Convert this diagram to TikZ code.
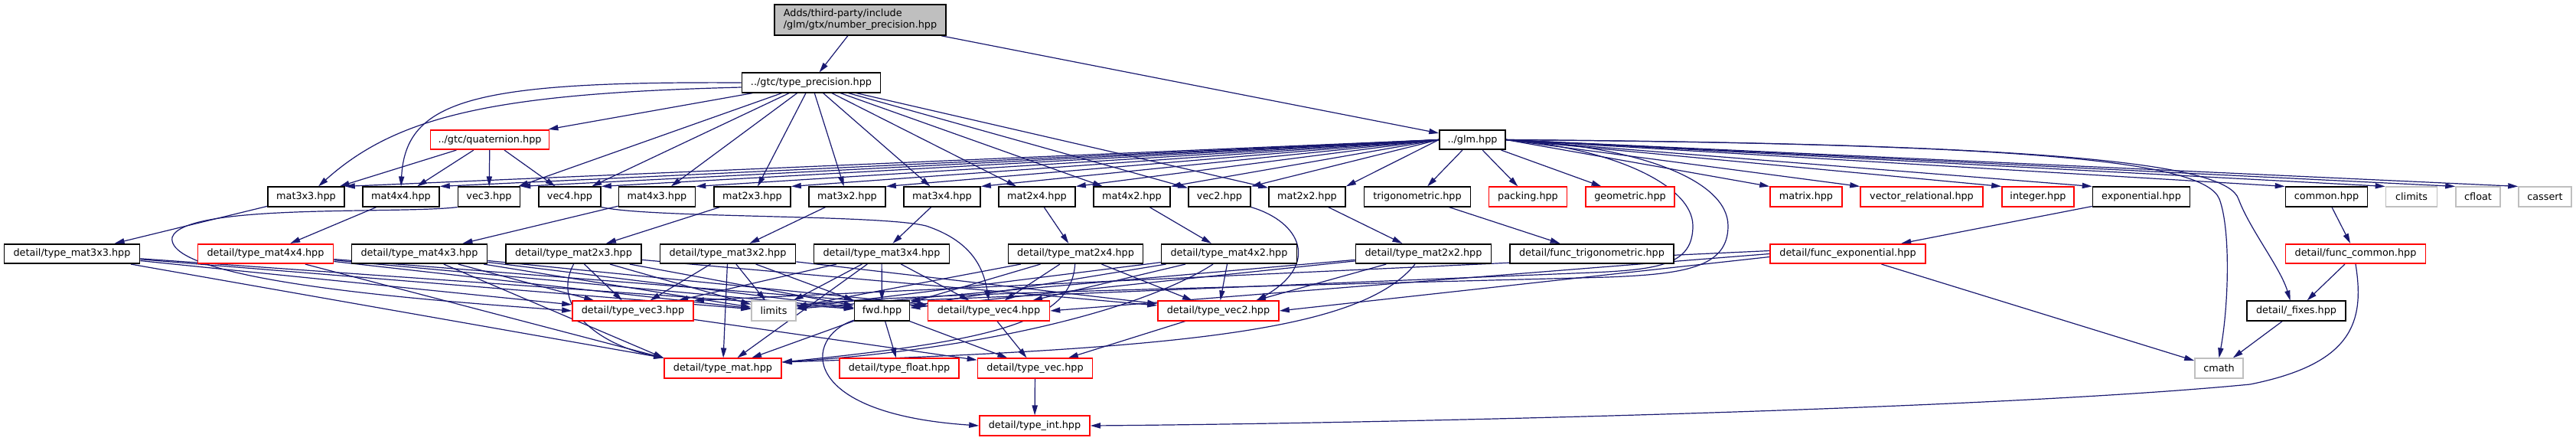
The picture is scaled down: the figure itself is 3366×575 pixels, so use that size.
\documentclass[tikz,border=0pt]{standalone}
\usepackage{fontspec}
\newfontfamily\dvsans{DejaVu Sans}
\usetikzlibrary{arrows.meta}
\definecolor{mblue}{HTML}{191970}
\definecolor{lgray}{HTML}{BFBFBF}
\newcommand\nodefnt{\dvsans\fontsize{6.4}{7.6}\selectfont}
\pgfdeclarelayer{bg}
\pgfsetlayers{bg,main}
\tikzset{
  nb/.style={draw=black, line width=0.8pt, fill=white, inner sep=0pt, minimum height=12.75pt, font=\nodefnt},
  nr/.style={nb, draw=red},
  ng/.style={nb, draw=lgray},
  ed/.style={draw=mblue, line width=0.6pt, -{Triangle[length=6.5pt,width=3.6pt]}},
}
\begin{document}
\begin{tikzpicture}[x=0.5pt,y=-0.5pt]
\useasboundingbox (0,0) rectangle (3366,575);
% ---------- nodes ----------
\node[nb, fill=lgray, minimum width=112pt, minimum height=20pt, align=left] (root) at (1124,26) {Adds/third-party/include\\/glm/gtx/number\_precision.hpp};
\node[nb, minimum width=90.5pt] (tp) at (1060,108) {../gtc/type\_precision.hpp};
\node[nr, minimum width=77.5pt] (quat) at (640,182.5) {../gtc/quaternion.hpp};
\node[nb, minimum width=43pt] (glm) at (1924,182.5) {../glm.hpp};
% row 3
\node[nb, minimum width=50pt] (mat3x3) at (400,257) {mat3x3.hpp};
\node[nb, minimum width=50pt] (mat4x4) at (524,257) {mat4x4.hpp};
\node[nb, minimum width=40.5pt] (vec3) at (639,257) {vec3.hpp};
\node[nb, minimum width=40.5pt] (vec4) at (744.5,257) {vec4.hpp};
\node[nb, minimum width=50pt] (mat4x3) at (858.5,257) {mat4x3.hpp};
\node[nb, minimum width=50pt] (mat2x3) at (983,257) {mat2x3.hpp};
\node[nb, minimum width=50pt] (mat3x2) at (1107,257) {mat3x2.hpp};
\node[nb, minimum width=50pt] (mat3x4) at (1231,257) {mat3x4.hpp};
\node[nb, minimum width=50pt] (mat2x4) at (1355,257) {mat2x4.hpp};
\node[nb, minimum width=50pt] (mat4x2) at (1479,257) {mat4x2.hpp};
\node[nb, minimum width=40.5pt] (vec2) at (1593.5,257) {vec2.hpp};
\node[nb, minimum width=50pt] (mat2x2) at (1708,257) {mat2x2.hpp};
\node[nb, minimum width=69.5pt] (trig) at (1852,257) {trigonometric.hpp};
\node[nr, minimum width=51pt] (packing) at (1996.5,257) {packing.hpp};
\node[nr, minimum width=58pt] (geometric) at (2130,257) {geometric.hpp};
\node[nr, minimum width=47pt] (matrix) at (2360,257) {matrix.hpp};
\node[nr, minimum width=80pt] (vecrel) at (2511,257) {vector\_relational.hpp};
\node[nr, minimum width=47pt] (integer) at (2663,257) {integer.hpp};
\node[nb, minimum width=63.5pt] (exponential) at (2798,257) {exponential.hpp};
\node[nb, minimum width=53.5pt] (common) at (3040,257) {common.hpp};
\node[ng, minimum width=33.5pt] (climits) at (3151,257) {climits};
\node[ng, minimum width=29pt] (cfloat) at (3238,257) {cfloat};
\node[ng, minimum width=34.5pt] (cassert) at (3325.5,257) {cassert};
% row 4
\node[nb, minimum width=88.5pt] (tmat3x3) at (94,331.5) {detail/type\_mat3x3.hpp};
\node[nr, minimum width=88.5pt] (tmat4x4) at (347,331.5) {detail/type\_mat4x4.hpp};
\node[nb, minimum width=88.5pt] (tmat4x3) at (548,331.5) {detail/type\_mat4x3.hpp};
\node[nb, minimum width=88.5pt] (tmat2x3) at (749.5,331.5) {detail/type\_mat2x3.hpp};
\node[nb, minimum width=88.5pt] (tmat3x2) at (951,331.5) {detail/type\_mat3x2.hpp};
\node[nb, minimum width=88.5pt] (tmat3x4) at (1152,331.5) {detail/type\_mat3x4.hpp};
\node[nb, minimum width=88pt] (tmat2x4) at (1405.5,331.5) {detail/type\_mat2x4.hpp};
\node[nb, minimum width=88.5pt] (tmat4x2) at (1606,331.5) {detail/type\_mat4x2.hpp};
\node[nb, minimum width=88.5pt] (tmat2x2) at (1860,331.5) {detail/type\_mat2x2.hpp};
\node[nb, minimum width=107pt] (ftrig) at (2080,331.5) {detail/func\_trigonometric.hpp};
\node[nr, minimum width=101.5pt] (fexp) at (2414.5,331.5) {detail/func\_exponential.hpp};
\node[nr, minimum width=91.5pt] (fcommon) at (3078,331.5) {detail/func\_common.hpp};
% row 5
\node[nr, minimum width=79pt] (tvec3) at (827,406) {detail/type\_vec3.hpp};
\node[ng, minimum width=29pt] (limits) at (1011,406) {limits};
\node[nb, minimum width=36pt] (fwd) at (1152.5,406) {fwd.hpp};
\node[nr, minimum width=79.5pt] (tvec4) at (1292,406) {detail/type\_vec4.hpp};
\node[nr, minimum width=79pt] (tvec2) at (1592,406) {detail/type\_vec2.hpp};
\node[nb, minimum width=64.5pt] (fixes) at (3000.5,406) {detail/\_fixes.hpp};
% row 6
\node[nr, minimum width=76.5pt] (tmat) at (944.5,481) {detail/type\_mat.hpp};
\node[nr, minimum width=78pt] (tfloat) at (1175,481) {detail/type\_float.hpp};
\node[nr, minimum width=75pt] (tvec) at (1352.5,481) {detail/type\_vec.hpp};
\node[ng, minimum width=31.5pt] (cmath) at (2899.5,481) {cmath};
% row 7
\node[nr, minimum width=72pt] (tint) at (1352,556) {detail/type\_int.hpp};
% ---------- edges ----------
\begin{pgfonlayer}{bg}
\draw[ed] (root) -- (tp);
\draw[ed] (root) -- (glm);
% type_precision
\draw[ed] (tp) -- (quat);
\draw[ed] ([yshift=-3pt]tp.west) .. controls (650,122) and (520,150) .. ([xshift=8pt]mat3x3.north);
\draw[ed] (tp.west) .. controls (620,106) and (530,130) .. (mat4x4.north);
\foreach \X in {vec3,vec4,mat4x3,mat2x3,mat3x2,mat3x4,mat2x4,mat4x2,vec2,mat2x2}
  \draw[ed] (tp) -- (\X);
% quaternion
\foreach \X in {mat3x3,mat4x4,vec3,vec4}
  \draw[ed] (quat) -- (\X);
% glm
\foreach \X in {mat3x3,mat4x4,vec3,vec4,mat4x3,mat2x3,mat3x2,mat3x4,mat2x4,mat4x2,vec2,mat2x2}
  \draw[ed] (glm.west) -- (\X.north east);
\foreach \X in {trig,packing,geometric}
  \draw[ed] (glm) -- (\X);
\foreach \X in {matrix,vecrel,integer,exponential,common,climits,cfloat,cassert}
  \draw[ed] (glm.east) -- (\X.north west);
\draw[ed] (glm.east) .. controls (2100,192) and (2212,240) .. (2212,295) .. controls (2212,345) and (2170,352) .. (2080,356) -- (fwd.north east);
\draw[ed] (glm.east) .. controls (2140,190) and (2258,235) .. (2258,295) .. controls (2258,350) and (2200,358) .. (2100,362) .. controls (1500,378) and (1150,385) .. ([yshift=3pt]limits.east);
\draw[ed] (glm.east) .. controls (2700,188) and (2910,215) .. (2925,260) .. controls (2940,300) and (2980,350) .. ([xshift=-4pt]fixes.north);
\draw[ed] (glm.east) .. controls (2650,188) and (2880,210) .. (2900,260) .. controls (2915,300) and (2912,400) .. (cmath.north);
% mat -> type_mat
\draw[ed] (mat3x3) -- (tmat3x3);
\draw[ed] (mat4x4) -- (tmat4x4);
\draw[ed] (mat4x3) -- (tmat4x3);
\draw[ed] (mat2x3) -- (tmat2x3);
\draw[ed] (mat3x2) -- (tmat3x2);
\draw[ed] (mat3x4) -- (tmat3x4);
\draw[ed] (mat2x4) -- (tmat2x4);
\draw[ed] (mat4x2) -- (tmat4x2);
\draw[ed] (mat2x2) -- (tmat2x2);
\draw[ed] (trig) -- (ftrig);
\draw[ed] (exponential) -- (fexp);
\draw[ed] (common) -- (fcommon);
% vec -> type_vec
\draw[ed] (vec3.south west) .. controls (520,280) and (240,265) .. (225,310) .. controls (215,370) and (600,395) .. (tvec3.west);
\draw[ed] (vec4.south east) .. controls (850,285) and (1150,280) .. (1210,295) .. controls (1270,315) and (1285,350) .. (tvec4.north);
\draw[ed] (vec2.south east) .. controls (1700,290) and (1725,345) .. ([xshift=25pt]tvec2.north);
% type_mat* edges
\foreach \X in {tmat3x3,tmat4x4,tmat4x3,tmat2x3,tmat3x2,tmat3x4,tmat2x4,tmat4x2,tmat2x2}
  {\draw[ed] (\X) -- (fwd); \draw[ed] (\X) -- (limits);}
\foreach \X in {tmat3x3,tmat4x3,tmat2x3,tmat3x2,tmat3x4}
  \draw[ed] (\X) -- (tvec3);
\foreach \X in {tmat4x4,tmat4x3,tmat3x4,tmat2x4,tmat4x2}
  \draw[ed] (\X) -- (tvec4);
\foreach \X in {tmat2x3,tmat3x2,tmat2x4,tmat4x2,tmat2x2}
  \draw[ed] (\X) -- (tvec2);
\foreach \X in {tmat3x3,tmat4x4,tmat4x3}
  \draw[ed] (\X) -- (tmat.north west);
\draw[ed] (tmat3x2) -- (tmat);
\draw[ed] (tmat3x4) -- (tmat);
\draw[ed] (tmat2x3.south) .. controls (720,400) and (780,450) .. (tmat.north west);
\draw[ed] (tmat2x4) .. controls (1400,420) and (1300,445) .. ([yshift=4pt]tmat.east);
\draw[ed] (tmat4x2) .. controls (1500,400) and (1300,455) .. ([yshift=4pt]tmat.east);
\draw[ed] (tmat2x2) .. controls (1780,430) and (1560,455) .. ([yshift=4pt]tmat.east);
% fwd & vec
\draw[ed] (fwd) -- (tmat);
\draw[ed] (fwd) -- (tfloat);
\draw[ed] (fwd) -- (tvec);
\draw[ed] (fwd) .. controls (1050,440) and (1040,540) .. (tint.west);
\draw[ed] (tvec3) -- (tvec);
\draw[ed] (tvec4) -- (tvec);
\draw[ed] (tvec2) -- (tvec);
\draw[ed] (tvec) -- (tint);
% func_exponential
\draw[ed] ([yshift=2pt]fexp.west) -- (tvec3.north east);
\draw[ed] (fexp.west) -- (tvec4.east);
\draw[ed] ([yshift=-2pt]fexp.west) -- (tvec2.east);
\draw[ed] (fexp) -- (cmath);
% func_common, fixes
\draw[ed] (fcommon) -- (fixes);
\draw[ed] (fcommon.south) .. controls (3090,420) and (3075,475) .. (2940,502) .. controls (2600,535) and (1800,553) .. (tint.east);
\draw[ed] (fixes) -- (cmath);
\end{pgfonlayer}
\end{tikzpicture}
\end{document}
